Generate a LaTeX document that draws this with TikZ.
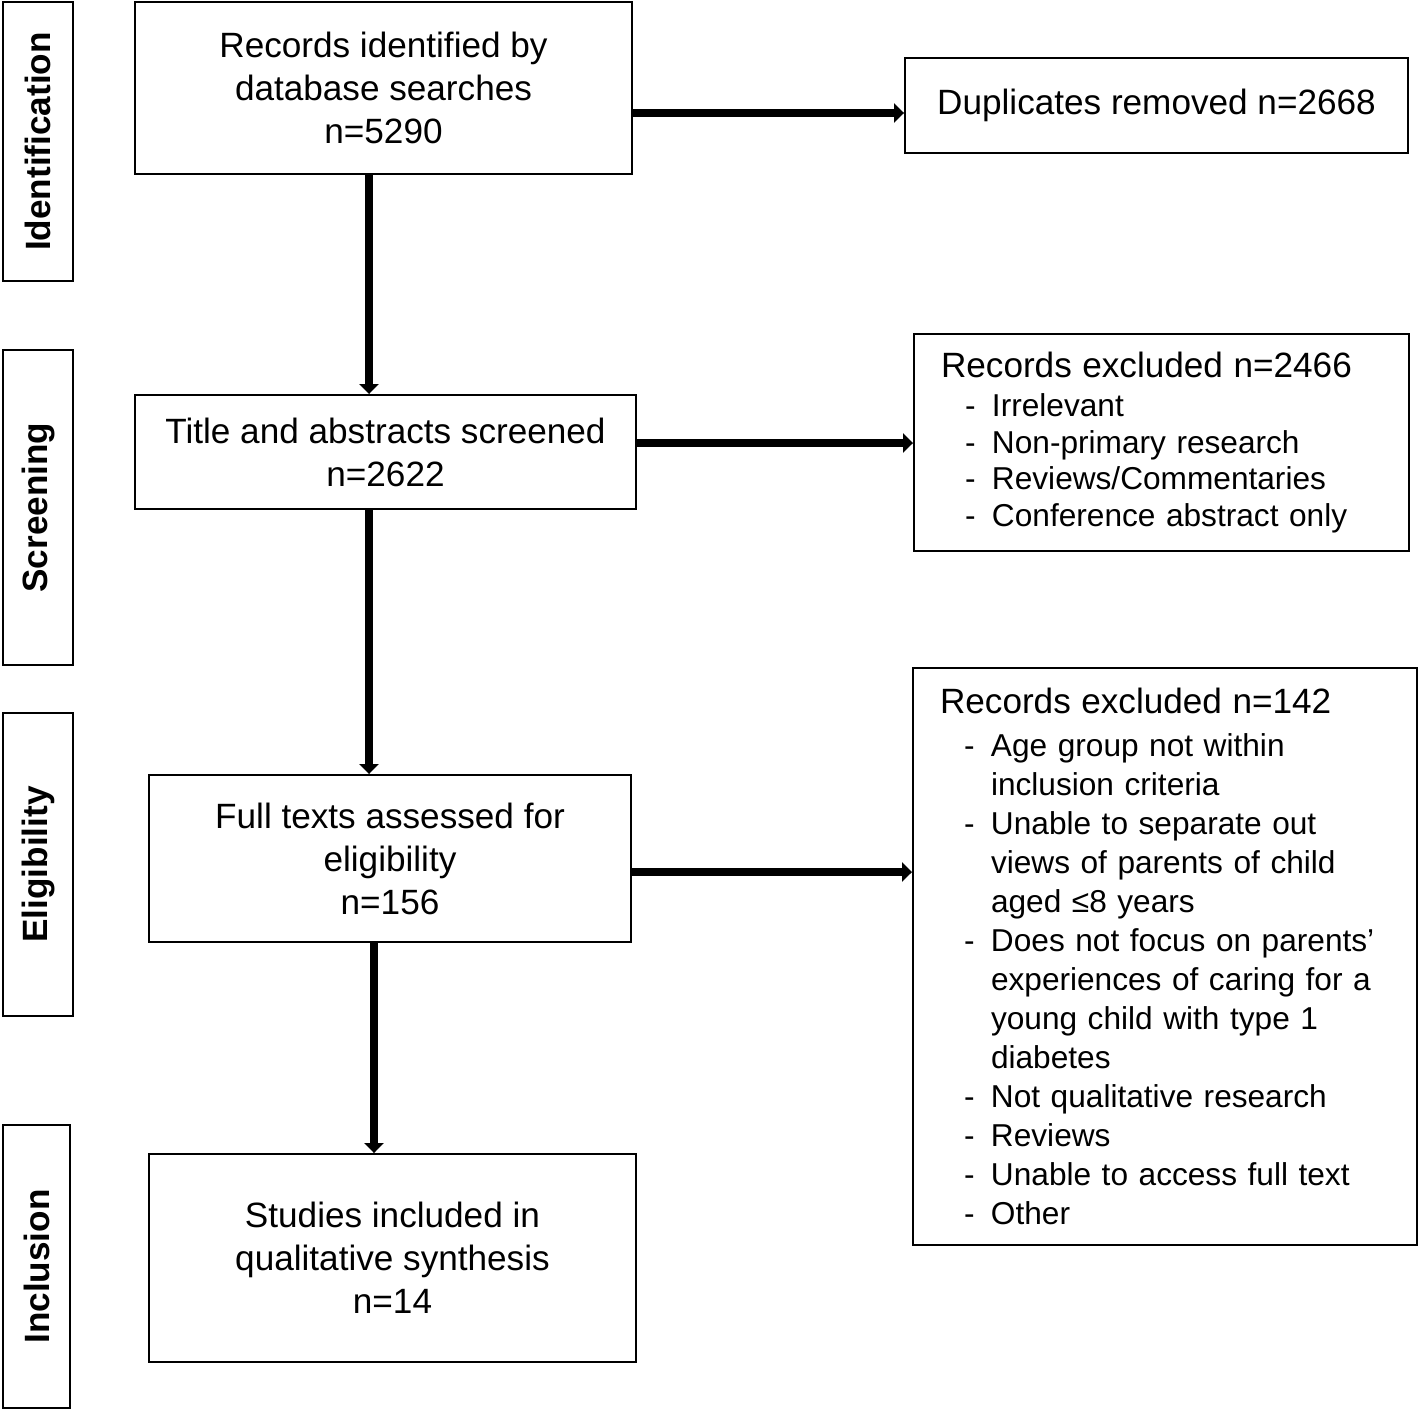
\documentclass[tikz,border=0pt]{standalone}
\usepackage{fontspec}
\setmainfont{Liberation Sans}
\usetikzlibrary{arrows.meta}

\newcommand{\exhead}[1]{\mbox{\fontsize{20}{20}\selectfont#1}}
\newcommand{\exitem}[1]{\mbox{\hspace*{0.48cm}\makebox[0.54cm][l]{-}#1}}
\newcommand{\exmore}[1]{\mbox{\hspace*{1.02cm}#1}}

\begin{document}
\begin{tikzpicture}[
  box/.style={draw, line width=1.1pt, align=center, inner sep=0pt,
    font=\fontsize{20}{24.5}\selectfont},
  exbox/.style={draw, line width=1.1pt, align=left, inner xsep=0.54cm, inner ysep=0pt},
  stage/.style={draw, line width=1.2pt, rotate=90, inner sep=0pt,
    font=\fontsize{20}{24}\selectfont\bfseries},
  flow/.style={line width=4pt, -{Triangle[length=0.2cm,width=0.38cm]}}
]
\useasboundingbox (0,0) rectangle (28.38,-28.2);

% stage labels
\node[stage, minimum width=5.58cm, minimum height=1.4cm] (ident) at (0.76,-2.83) {Identification};
\node[stage, minimum width=6.3cm, minimum height=1.4cm] (screen) at (0.76,-10.15) {Screening};
\node[stage, minimum width=6.06cm, minimum height=1.4cm] (elig) at (0.76,-17.29) {Eligibility};
\node[stage, minimum width=5.66cm, minimum height=1.34cm] (incl) at (0.73,-25.33) {Inclusion};

% main flow
\node[box, minimum width=9.94cm, minimum height=3.44cm] (recs) at (7.67,-1.76)
  {Records identified by\\database searches\\n=5290};
\node[box, minimum width=10.02cm, minimum height=2.28cm] (title) at (7.71,-9.04)
  {Title and abstracts screened\\n=2622};
\node[box, minimum width=9.64cm, minimum height=3.34cm] (full) at (7.80,-17.17)
  {Full texts assessed for\\eligibility\\n=156};
\node[box, minimum width=9.74cm, minimum height=4.16cm] (incd) at (7.85,-25.16)
  {Studies included in\\qualitative synthesis\\n=14};

% exclusions
\node[box, minimum width=10.06cm, minimum height=1.9cm] (dup) at (23.13,-2.11)
  {Duplicates removed n=2668};
\node[exbox, text width=8.82cm, minimum height=4.34cm,
  font=\fontsize{18}{20.8}\selectfont] (exa) at (23.23,-8.85)
  {\exhead{Records excluded n=2466}\\[1.5pt]
   \exitem{Irrelevant}\\
   \exitem{Non-primary research}\\
   \exitem{Reviews/Commentaries}\\
   \exitem{Conference abstract only}};
\node[exbox, text width=9.0cm, minimum height=11.54cm,
  font=\fontsize{18}{22.2}\selectfont] (exb) at (23.30,-19.13)
  {\exhead{Records excluded n=142}\\[2pt]
   \exitem{Age group not within}\\
   \exmore{inclusion criteria}\\
   \exitem{Unable to separate out}\\
   \exmore{views of parents of child}\\
   \exmore{aged ≤8 years}\\
   \exitem{Does not focus on parents’}\\
   \exmore{experiences of caring for a}\\
   \exmore{young child with type 1}\\
   \exmore{diabetes}\\
   \exitem{Not qualitative research}\\
   \exitem{Reviews}\\
   \exitem{Unable to access full text}\\
   \exitem{Other}};

% arrows
\draw[flow] ([xshift=-0.29cm]recs.south) -- ([xshift=-0.29cm]recs.south |- title.north);
\draw[flow] ([xshift=-0.33cm]title.south) -- ([xshift=-0.33cm]title.south |- full.north);
\draw[flow] ([xshift=-0.32cm]full.south) -- ([xshift=-0.32cm]full.south |- incd.north);
\draw[flow] ([yshift=-0.5cm]recs.east) -- ([yshift=-0.5cm]recs.east -| dup.west);
\draw[flow] ([yshift=0.18cm]title.east) -- ([yshift=0.18cm]title.east -| exa.west);
\draw[flow] ([yshift=-0.27cm]full.east) -- ([yshift=-0.27cm]full.east -| exb.west);
\end{tikzpicture}
\end{document}
